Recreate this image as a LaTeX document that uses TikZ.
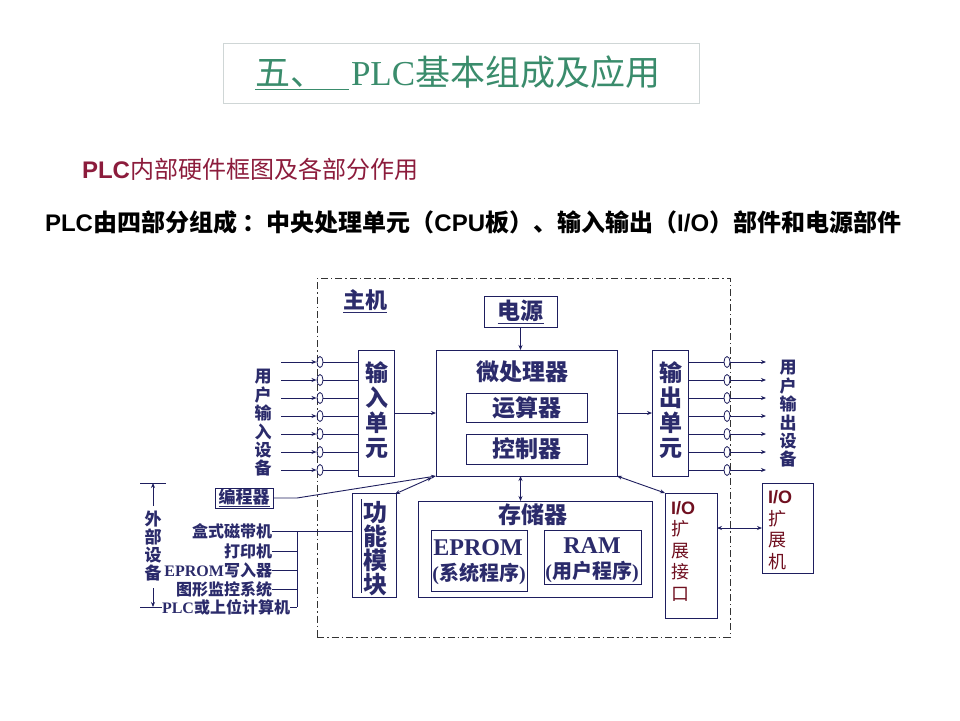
\documentclass[tikz,border=0pt]{standalone}
\usepackage{fontspec}
\setmainfont{Noto Sans CJK SC}
\newfontfamily\lsans{Liberation Sans}
\newfontfamily\lserif{Liberation Serif}
\usetikzlibrary{arrows.meta,calc}
\definecolor{navy}{HTML}{2B2B6B}
\definecolor{lnavy}{HTML}{1E1E5E}
\definecolor{tgreen}{HTML}{3A8C6C}
\definecolor{hred}{HTML}{8C1C3C}
\definecolor{dred}{HTML}{701020}
\definecolor{tboxc}{HTML}{CFD6D6}
\newcommand\fsz[2]{\fontsize{#1}{#2}\selectfont}
\begin{document}
\begin{tikzpicture}[x=1pt,y=-1pt,
  every node/.style={inner sep=0pt,outer sep=0pt},
  box/.style={draw=lnavy,line width=0.9pt,rectangle,anchor=north west,text=navy},
  arr/.style={draw=lnavy,line width=0.9pt,-{Stealth[length=5pt,width=4pt]}},
  darr/.style={draw=lnavy,line width=0.9pt,{Stealth[length=5pt,width=4pt]}-{Stealth[length=5pt,width=4pt]}},
  ln/.style={draw=lnavy,line width=0.9pt},
  vtext/.style={align=center,text=navy},
  bigl/.style={text=navy,font=\fsz{23}{25}\bfseries},
  extl/.style={text=navy,anchor=east,font=\fsz{16}{16}\bfseries},
  iol/.style={align=left,text=dred,anchor=west,font=\fsz{18}{21.5}},
  dashframe/.style={draw=black!80,line width=0.7pt,dash pattern=on 7pt off 3pt on 1.5pt off 3pt,anchor=north west,rectangle}
]
\useasboundingbox (0,0) rectangle (960,720);

% title
\node[draw=tboxc,line width=0.8pt,minimum width=476pt,minimum height=60pt,anchor=north west] (tbox) at (223,43) {};
\node[anchor=west,text=tgreen,font=\fsz{35}{35}] (title) at (255,73) {\underline{五、\hspace{24pt}}\hspace{2pt}{\lserif PLC}基本组成及应用};

% headers
\node[anchor=west,text=hred,font=\fsz{24}{24}] (sub) at (82,169) {{\lsans\bfseries PLC}内部硬件框图及各部分作用};
\node[anchor=west,text=black,font=\fsz{24}{24}\bfseries] (desc) at (45,222) {{\lsans PLC}由四部分组成 ：中央处理单元（{\lsans CPU}板）、输入输出（{\lsans I/O}）部件和电源部件};

% main frame
\node[dashframe,minimum width=413pt,minimum height=359pt] (frame) at (317,278) {};
\node[text=navy,font=\fsz{22}{22}\bfseries] (host) at (365,301) {\underline{主机}};

% boxes
\node[box,minimum width=73pt,minimum height=31pt,font=\fsz{23}{23}\bfseries] (psu) at (484,296) {\underline{电源}};
\node[box,minimum width=181pt,minimum height=126pt] (cpu) at (436,350) {};
\node[bigl] (cpuT) at (522,372) {微处理器};
\node[box,minimum width=121pt,minimum height=29pt,font=\fsz{23}{23}\bfseries] (alu) at (466,393) {运算器};
\node[box,minimum width=121pt,minimum height=30pt,font=\fsz{23}{23}\bfseries] (ctl) at (466,434) {控制器};

\node[box,minimum width=36pt,minimum height=126pt] (inu) at (358,350) {};
\node[vtext,font=\fsz{23}{25}\bfseries] (inuT) at (377,410) {输\\入\\单\\元};
\node[box,minimum width=36pt,minimum height=126pt] (outu) at (652,350) {};
\node[vtext,font=\fsz{23}{25}\bfseries] (outuT) at (671,410) {输\\出\\单\\元};

\node[box,minimum width=58pt,minimum height=20pt,font=\fsz{17}{17}\bfseries] (prog) at (215,488) {\underline{编程器}};

\node[box,minimum width=44pt,minimum height=104pt] (func) at (352,493) {};
\node[vtext,font=\fsz{24}{24}\bfseries] (funcT) at (375,549) {功\\能\\模\\块};
\draw[ln] (361,499) -- (361,593);

\node[box,minimum width=234pt,minimum height=96pt] (mem) at (418,501) {};
\node[bigl] (memT) at (533,515) {存储器};
\node[box,minimum width=96pt,minimum height=61pt] (eprom) at (431,530) {};
\node[text=navy,font=\fsz{24}{24}\lserif\bfseries] (epromT) at (478,548) {EPROM};
\node[text=navy,font=\fsz{20}{20}\bfseries] (epromS) at (479,574) {{\lserif(}系统程序{\lserif)}};
\node[box,minimum width=97pt,minimum height=54pt] (ram) at (544,530) {};
\node[text=navy,font=\fsz{24}{24}\lserif\bfseries] (ramT) at (592,546) {RAM};
\node[text=navy,font=\fsz{20}{20}\bfseries] (ramS) at (592,572) {{\lserif(}用户程序{\lserif)}};

\node[box,minimum width=52pt,minimum height=125pt] (ioif) at (665,493) {};
\node[iol] (ioifT) at (671,551) {{\lsans\bfseries I/O}\\扩\\展\\接\\口};
\node[box,minimum width=51pt,minimum height=90pt] (ioex) at (762,483) {};
\node[iol] (ioexT) at (768,530) {{\lsans\bfseries I/O}\\扩\\展\\机};

% side labels
\node[vtext,font=\fsz{17}{18.4}\bfseries] (uin) at (263,423) {用\\户\\输\\入\\设\\备};
\node[vtext,font=\fsz{17}{18.4}\bfseries] (uout) at (788,414) {用\\户\\输\\出\\设\\备};
\node[vtext,font=\fsz{17}{17.7}\bfseries] (ext) at (153,546) {外\\部\\设\\备};

% external devices
\node[extl] (tape) at (272,531) {盒式磁带机};
\node[extl] (prn) at (272,551) {打印机};
\node[extl] (eprw) at (272,570) {{\lserif EPROM}写入器};
\node[extl] (gfx) at (272,589) {图形监控系统};
\node[extl] (plc) at (290,607) {{\lserif PLC}或上位计算机};
\coordinate (bus) at (297,531);
\draw[ln] (tape.east) -- (tape.east -| func.west);
\draw[ln] (bus) -- (297,607);
\draw[ln] (prn.east) -- (prn.east -| bus);
\draw[ln] (eprw.east) -- (eprw.east -| bus);
\draw[ln] (gfx.east) -- (gfx.east -| bus);
\draw[ln] (plc.east) -- (plc.east -| bus);

% dimension for external devices
\coordinate (dtop) at (153,483);
\coordinate (dbot) at (153,607);
\draw[ln] (140,483) -- (166,483);
\draw[ln] (140,607) -- (162,607);
\draw[arr] (ext.north |- 0,506) -- (dtop);
\draw[arr] (ext.south |- 0,588) -- (dbot);

% inputs / outputs
\foreach \i in {0,...,6}{
  \pgfmathsetmacro\yy{362+18*\i}
  \coordinate (ci) at (0,\yy);
  \draw[arr] (281,\yy) -- (316.5,\yy);
  \draw[lnavy,line width=0.8pt] (320,\yy) ellipse (3 and 5.5);
  \draw[ln] (323,\yy) -- (inu.west |- ci);
  \draw[ln] (outu.east |- ci) -- (724,\yy);
  \draw[lnavy,line width=0.8pt] (727,\yy) ellipse (3 and 5.5);
  \draw[arr] (730,\yy) -- (766,\yy);
}

% connectors
\draw[arr] (psu.south) -- (psu.south |- cpu.north);
\draw[arr] (inu.east) -- (inu.east -| cpu.west);
\draw[arr] (cpu.east) -- (cpu.east -| outu.west);
\draw[darr] (psu.south |- cpu.south) -- (psu.south |- mem.north);
\draw[darr] (cpu.south east) -- (ioif.north west);
\draw[arr] (prog.east) -- ++(24,0) -- (cpu.south west);
\draw[darr] ([shift={(-4pt,-1.5pt)}]cpu.south west) -- ([shift={(-1pt,-1pt)}]func.north east);
\draw[darr] ([yshift=-35pt]ioif.north east) -- ([yshift=-35pt]ioif.north east -| ioex.west);
\end{tikzpicture}
\end{document}
